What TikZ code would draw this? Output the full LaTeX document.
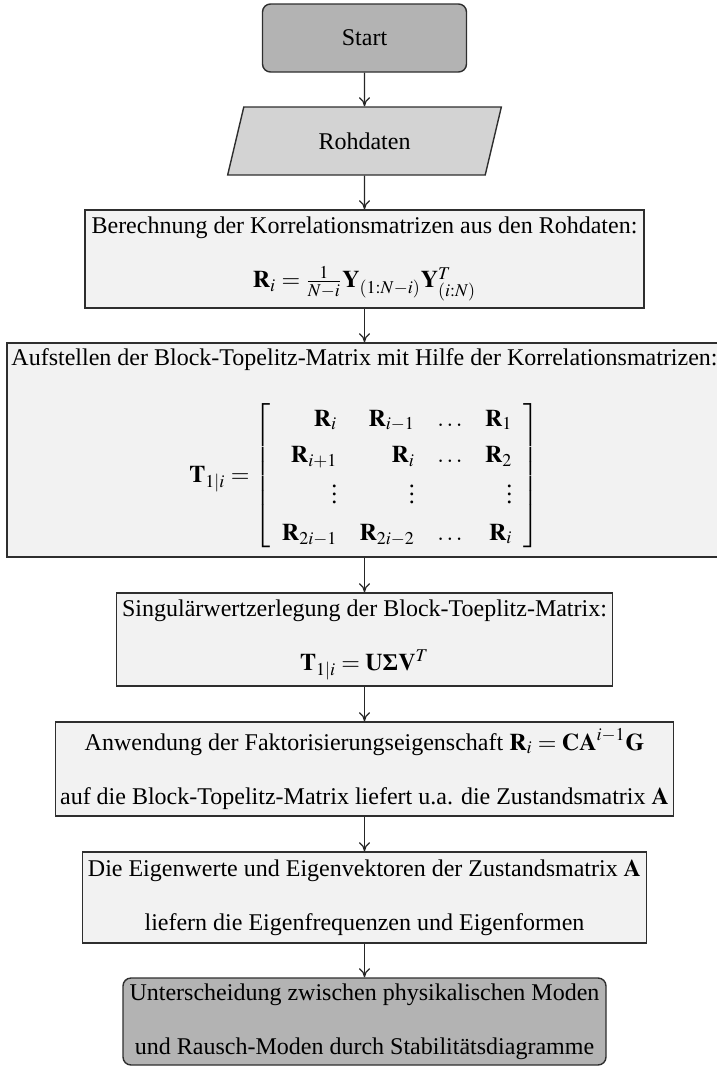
\documentclass[tikz,border=0pt]{standalone}
\usepackage{mathptmx}
\usepackage[no-math]{fontspec}
\setmainfont{Liberation Serif}
\usepackage{tikz}
\usetikzlibrary{arrows.meta, shapes.geometric}
\definecolor{flowDark}{HTML}{B3B3B3}
\definecolor{flowMid}{HTML}{D3D3D3}
\definecolor{flowLight}{HTML}{F2F2F2}
\definecolor{flowLine}{HTML}{2E2E2E}
\tikzset{
  stepbase/.style={rectangle, draw=flowLine, line width=0.7pt, align=center,
    font=\fontsize{12}{14}\selectfont, inner sep=0pt},
  terminal/.style={stepbase, rounded corners=4pt, fill=flowDark},
  process/.style={stepbase, fill=flowLight},
  iobox/.style={trapezium, trapezium left angle=70, trapezium right angle=110,
    trapezium stretches=true, draw=flowLine, line width=0.7pt, fill=flowMid,
    font=\fontsize{12}{14}\selectfont, inner sep=0pt},
  flowarrow/.style={-{To[length=4.5pt,width=5.5pt]}, line width=0.6pt, black!85},
}

\begin{document}
\begin{tikzpicture}[x=1pt, y=-1pt]
    \useasboundingbox (0,0) rectangle (358.5,533);
    % steps of the identification
    \node[terminal, minimum width=102pt, minimum height=34pt]
      (start) at (182.25,19) {Start};
    \node[iobox, minimum width=137.5pt, minimum height=34pt]
      (roh) at (182.25,70.5) {Rohdaten};
    \node[process, minimum width=279.5pt, minimum height=49pt]
      (korr) at (182.25,129.5)
      {Berechnung der Korrelationsmatrizen aus den Rohdaten:\\[13pt]
       $\mathbf{R}_i = \frac{1}{N-i}\mathbf{Y}_{(1:N-i)}\mathbf{Y}^T_{(i:N)}$};
    \node[process, minimum width=357.5pt, minimum height=107pt]
      (toep) at (182.25,225)
      {Aufstellen der Block-Topelitz-Matrix mit Hilfe der Korrelationsmatrizen:\\[14pt]
       {\renewcommand{\arraystretch}{1.3}\setlength{\arraycolsep}{5.6pt}%
       $\mathbf{T}_{1|i} = \left[\begin{array}{rrcr}
         \mathbf{R}_i & \mathbf{R}_{i-1} & \dots & \mathbf{R}_1\\
         \mathbf{R}_{i+1} & \mathbf{R}_i & \dots & \mathbf{R}_2\\
         \vdots & \vdots & & \vdots\\
         \mathbf{R}_{2i-1} & \mathbf{R}_{2i-2} & \dots & \mathbf{R}_i
       \end{array}\right]$}};
    \node[process, minimum width=248pt, minimum height=46.5pt]
      (svd) at (182.25,319.75)
      {Singulärwertzerlegung der Block-Toeplitz-Matrix:\\[13pt]
       $\mathbf{T}_{1|i} = \mathbf{U}\textbf{Σ}\mathbf{V}^T$};
    \node[process, minimum width=309pt, minimum height=47pt]
      (fakt) at (182.25,384.5)
      {Anwendung der Faktorisierungseigenschaft $\mathbf{R}_i = \mathbf{CA}^{i-1}\mathbf{G}$\\[13pt]
       auf die Block-Topelitz-Matrix liefert u.a. die Zustandsmatrix $\mathbf{A}$};
    \node[process, minimum width=282pt, minimum height=45.5pt]
      (eig) at (182.25,448.75)
      {Die Eigenwerte und Eigenvektoren der Zustandsmatrix $\mathbf{A}$\\[13pt]
       liefern die Eigenfrequenzen und Eigenformen};
    \node[terminal, minimum width=241.5pt, minimum height=43.5pt]
      (stab) at (182.25,510.75)
      {Unterscheidung zwischen physikalischen Moden\\[13pt]
       und Rausch-Moden durch Stabilitätsdiagramme};
    % connectors
    \draw[flowarrow] (start) -- (roh);
    \draw[flowarrow] (roh) -- (korr);
    \draw[flowarrow] (korr) -- (toep);
    \draw[flowarrow] (toep) -- (svd);
    \draw[flowarrow] (svd) -- (fakt);
    \draw[flowarrow] (fakt) -- (eig);
    \draw[flowarrow] (eig) -- (stab);
\end{tikzpicture}
\end{document}
